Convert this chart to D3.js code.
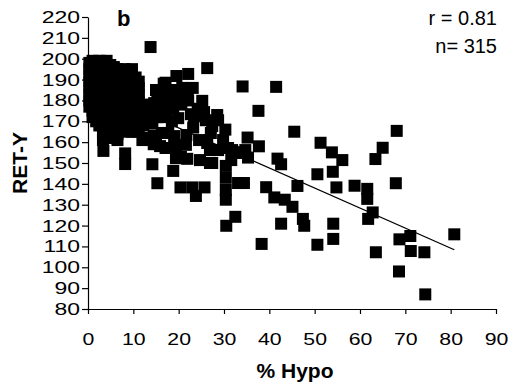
<!DOCTYPE html>
<html>
<head>
<meta charset="utf-8">
<script src="https://cdn.jsdelivr.net/npm/d3@7"></script>
<style>
  body { margin: 0; background: #fff; }
  text { font-family: "Liberation Sans", Arial, sans-serif; }
</style>
</head>
<body>
<div id="chart"></div>
<script>
// tick values
var xTicks = [0, 10, 20, 30, 40, 50, 60, 70, 80, 90];
var yTicks = [80, 90, 100, 110, 120, 130, 140, 150, 160, 170, 180, 190, 200, 210, 220];

// dense group near 0-12 % Hypo
var clusterPts = [
  [0.3,198],[0.3,195],[0.3,192],[0.3,189],[0.3,186],[0.3,183],[0.3,180],[0.3,177],
  [1.0,199],[1.0,196],[1.0,193],[1.0,190],[1.0,187],[1.0,184],[1.0,181],[1.0,178],[1.0,175],[1.0,172],
  [1.8,198],[1.8,195],[1.8,191],[1.8,188],[1.8,185],[1.8,182],[1.8,179],[1.8,176],[1.8,173],[1.8,170],
  [2.5,199],[2.5,196],[2.5,192],[2.5,189],[2.5,186],[2.5,183],[2.5,180],[2.5,177],[2.5,174],[2.5,171],[2.5,168],
  [3.3,198],[3.3,194],[3.3,190],[3.3,187],[3.3,184],[3.3,181],[3.3,178],[3.3,175],[3.3,172],[3.3,168],[3.3,165],[3.3,161],[3.4,155.8],
  [4.1,199],[4.1,196],[4.1,193],[4.1,189],[4.1,186],[4.1,182],[4.1,179],[4.1,176],[4.1,173],[4.1,170],[4.1,167],
  [4.9,197],[4.9,194],[4.9,191],[4.9,188],[4.9,185],[4.9,181],[4.9,178],[4.9,175],[4.9,172],[4.9,169],[4.9,166],[4.9,163],
  [5.7,196],[5.7,193],[5.7,190],[5.7,187],[5.7,184],[5.7,180],[5.7,177],[5.7,174],[5.7,171],[5.7,168],[5.7,165],[5.7,162],
  [6.5,195],[6.5,192],[6.5,189],[6.5,186],[6.5,183],[6.5,179],[6.5,176],[6.5,173],[6.5,170],[6.5,167],[6.5,164],[6.5,161],
  [7.3,194],[7.3,191],[7.3,188],[7.3,185],[7.3,182],[7.3,178],[7.3,175],[7.3,172],[7.3,169],[7.3,166],
  [8.1,195],[8.1,192],[8.1,189],[8.1,186],[8.1,182],[8.1,179],[8.1,176],[8.1,173],[8.1,170],[8.1,167],[8.2,154.6],[8.2,149.5],
  [8.9,194],[8.9,191],[8.9,187],[8.9,184],[8.9,181],[8.9,178],[8.9,175],[8.9,172],[8.9,168],[8.9,165],
  [9.7,195],[9.7,192],[9.7,189],[9.7,186],[9.7,183],[9.7,180],[9.7,177],[9.7,174],[9.7,171],[9.7,168],[9.7,165],
  [10.5,191],[10.5,188],[10.5,185],[10.5,182],[10.5,179],[10.5,176],[10.5,173],[10.5,170],[10.5,167],
  [11.2,189],[11.2,186],[11.2,183],[11.2,180],[11.2,177],[11.2,174],[11.2,171],[11.2,168],[11.2,165]
];

// middle band 12-35 % Hypo
var midPts = [
  [12.0,176],[12.4,171],[12.2,168],[12.5,162],[12.0,161],
  [13.3,178],[13.6,174],[13.8,169],[13.8,205.6],
  [14.6,178.7],[14.2,169],[14.5,163],[14.5,159],[14.2,149.4],
  [15.0,185],[15.3,181],[15.0,176],[15.4,172],[15.0,161],[15.9,158.1],[15.3,140.3],
  [16.7,188],[16.4,184],[16.3,180],[16.8,176],[16.3,164.4],[16.5,172],
  [17.1,188.5],[17.2,183],[17.7,164.4],[17.2,172.4],[17.6,178],[17.1,157.2],
  [18.4,185],[18.2,180],[18.8,176],[18.5,170],[18.8,146.2],
  [19.5,191.7],[19.9,182],[19.9,171.5],[19.0,162.9],[19.4,157.7],[19.4,152.3],
  [20.5,152.9],[20.6,178],[20.8,186],[20.4,138.3],
  [21.6,158.7],[21.7,163.4],[22.0,181],[22.1,192.7],[22.1,180],[21.9,152],
  [23.1,186],[23.4,172.4],[23.0,138.3],[23.8,134.2],[22.7,173.4],[23.2,167],
  [24.5,161],[24.7,151.4],[24.2,176],
  [25.2,179.8],[25.6,174.4],[25.7,138.3],[26.0,170.5],[26.3,195.5],[26.3,159.6],[26.9,156.2],[26.9,150],
  [27.4,167.7],[27.1,164.4],[27.4,150],[28.5,173],[28.7,170.5],[28.7,156.2],
  [29.8,161],[30.3,166],[30.9,157.2],[30.4,148.6],[30.4,142.9],[30.4,137.1],[30.4,132.4],[30.5,119.9],
  [31.6,151.4],[31.8,156.2],[32.5,155.2],[32.5,124.2],[33.1,140.4],[33.6,154.8],[34.4,140.4],[34.7,156.2],[34.1,186.7]
];

// spread-out tail past 35 % Hypo
var tailPts = [
  [35.2,162.2],[35.3,152.6],[37.6,175],[37.7,158],[38.3,111.2],[39.3,138.4],
  [41.5,186.5],[41.1,133.5],[41.8,152.1],[42.6,149.4],[42.6,120.9],[43.4,132.4],
  [45.1,129],[45.5,165],[46.2,139],[47.4,123.2],[47.7,119.9],
  [50.6,144.6],[50.6,110.8],[51.3,159.7],[53.8,155.1],[54.0,145.8],[54.8,138.3],[54.1,120.9],[54.1,113.6],[56.1,151.4],
  [58.8,139.1],[61.6,137.6],[61.6,132.8],[61.8,123.2],[62.8,126.3],[63.4,151.9],[63.5,107.2],[65.0,157.3],
  [67.9,140.3],[68.1,165.4],[68.7,113.4],[68.6,98],[71.1,115],[71.2,107.8],[74.2,107.2],[74.4,87],[80.8,115.8]
];

// regression line ends
var trendLine = [[0, 186], [80.8, 108.4]];

var statLabels = ["r = 0.81", "n= 315"];
var panelLabel = "b";
var xTitle = "% Hypo";
var yTitle = "RET-Y";

var w = 510;
var h = 388;

var svg = d3.select("#chart")
            .append("svg")
            .attr("width", w)
            .attr("height", h);

var x = d3.scaleLinear().domain([0, 90]).range([88, 496]);
var y = d3.scaleLinear().domain([80, 220]).range([309, 17]);

var xAxis = svg.append("g")
               .attr("transform", "translate(0,309)")
               .call(d3.axisBottom(x).tickValues(xTicks).tickSize(5).tickSizeOuter(0).tickPadding(19));

var yAxis = svg.append("g")
               .attr("transform", "translate(88,0)")
               .call(d3.axisLeft(y).tickValues(yTicks).tickSize(6).tickSizeOuter(0).tickPadding(2));

[xAxis, yAxis].forEach(function(g){
  g.attr("font-family", null).attr("font-size", null);
  g.selectAll("path, line").attr("stroke", "#000").attr("stroke-width", 1.2);
  g.selectAll("text")
   .attr("fill", "#000")
   .style("font-size", "17px");
});

// tick labels in the source are drawn wider than normal
function widen(sel, k) {
  sel.each(function(){
    var len = this.getComputedTextLength();
    d3.select(this)
      .attr("textLength", len * k)
      .attr("lengthAdjust", "spacingAndGlyphs");
  });
}
widen(yAxis.selectAll("text"), 1.35);
widen(xAxis.selectAll("text"), 1.25);

// trend line sits under the markers
svg.append("line")
   .attr("x1", x(trendLine[0][0]))
   .attr("y1", y(trendLine[0][1]))
   .attr("x2", x(trendLine[1][0]))
   .attr("y2", y(trendLine[1][1]))
   .attr("stroke", "#000")
   .attr("stroke-width", 1.3);

var allPts = clusterPts.concat(midPts, tailPts);
var s = 12;

svg.selectAll("rect.pt")
   .data(allPts)
   .enter()
   .append("rect")
   .attr("class", "pt")
   .attr("x", function(d){ return x(d[0]) - s / 2; })
   .attr("y", function(d){ return y(d[1]) - s / 2; })
   .attr("width", s)
   .attr("height", s)
   .attr("fill", "#000");

svg.append("text")
   .attr("x", 117)
   .attr("y", 26)
   .style("font-size", "22px")
   .style("font-weight", "bold")
   .text(panelLabel);

svg.selectAll("text.stat")
   .data(statLabels)
   .enter()
   .append("text")
   .attr("class", "stat")
   .attr("x", 497)
   .attr("y", function(d, i){ return 25 + i * 28; })
   .attr("text-anchor", "end")
   .style("font-size", "20px")
   .text(function(d){ return d; });

svg.append("text")
   .attr("x", 295)
   .attr("y", 378)
   .attr("text-anchor", "middle")
   .style("font-size", "21px")
   .style("font-weight", "bold")
   .text(xTitle);

svg.append("text")
   .attr("transform", "translate(27,163) rotate(-90)")
   .attr("text-anchor", "middle")
   .style("font-size", "21px")
   .style("font-weight", "bold")
   .text(yTitle);
</script>
</body>
</html>
